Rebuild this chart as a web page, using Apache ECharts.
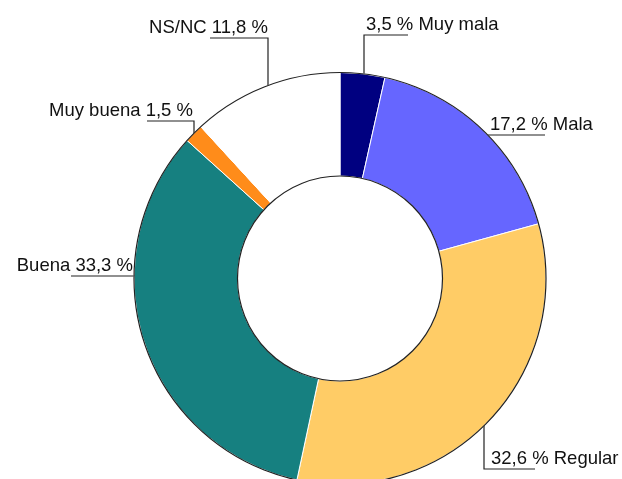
<!DOCTYPE html>
<html>
<head>
<meta charset="utf-8">
<script src="https://cdn.jsdelivr.net/npm/echarts@6/dist/echarts.min.js"></script>
<style>
  html, body { margin: 0; padding: 0; background: #fff; }
  #chart { width: 622px; height: 479px; }
</style>
</head>
<body>
<div id="chart"></div>
<script>
// Opinion categories, clockwise from 12 o'clock
const categories = ['Muy mala', 'Mala', 'Regular', 'Buena', 'Muy buena', 'NS/NC'];
const shares = [3.5, 17.2, 32.6, 33.3, 1.5, 11.8];
const sliceColors = ['#000080', '#6666ff', '#ffcc66', '#168080', '#ff8c1a', '#ffffff'];

// Where each label sits and how its leader line runs (same order as categories)
const labelSpots = [
  { x: 366, y: 34,  align: 'left',  pts: [[364, 74], [364, 35], [408, 35]] },
  { x: 490, y: 134, align: 'left',  pts: [[487, 135], [487, 135], [545, 135]] },
  { x: 491, y: 468, align: 'left',  pts: [[484, 421], [484, 469], [535, 469]] },
  { x: 133, y: 275, align: 'right', pts: [[134, 276], [134, 276], [71, 276]] },
  { x: 193, y: 120, align: 'right', pts: [[194, 136], [194, 121], [147, 121]] },
  { x: 268, y: 37,  align: 'right', pts: [[268, 86], [268, 38], [210, 38]] }
];

const CENTER = [340, 278.5];
const R_IN = 102.5;
const R_OUT = 206;

const fmt = v => v.toFixed(1).replace('.', ',');

const chart = echarts.init(document.getElementById('chart'), null, { renderer: 'canvas' });

chart.setOption({
  backgroundColor: '#ffffff',
  animation: false,
  series: [
    {
      type: 'pie',
      center: CENTER,
      radius: [R_IN, R_OUT],
      startAngle: 90,
      clockwise: true,
      avoidLabelOverlap: false,
      itemStyle: { borderColor: '#ffffff', borderWidth: 1 },
      emphasis: { disabled: true },
      label: {
        show: true,
        position: 'outside',
        fontFamily: 'Liberation Sans, Arial, sans-serif',
        fontSize: 18.5,
        lineHeight: 18,
        color: '#111',
        formatter: p => labelSpots[p.dataIndex].align === 'left'
          ? fmt(p.value) + ' % ' + p.name
          : p.name + ' ' + fmt(p.value) + ' %'
      },
      labelLine: {
        show: true,
        lineStyle: { color: '#222', width: 1.2 }
      },
      labelLayout: params => {
        const s = labelSpots[params.dataIndex];
        return {
          x: s.x,
          y: s.y,
          align: s.align,
          verticalAlign: 'bottom',
          labelLinePoints: s.pts
        };
      },
      data: categories.map((c, i) => ({
        name: c,
        value: shares[i],
        itemStyle: { color: sliceColors[i] }
      }))
    },
    // thin dark outline along the outer edge of the ring
    {
      type: 'pie',
      center: CENTER,
      radius: [0, R_OUT],
      silent: true,
      z: 5,
      label: { show: false },
      labelLine: { show: false },
      itemStyle: { color: 'rgba(0,0,0,0)', borderColor: '#222', borderWidth: 1.2 },
      data: [{ value: 1 }]
    },
    // hole in the middle with its dark outline
    {
      type: 'pie',
      center: CENTER,
      radius: [0, R_IN],
      silent: true,
      z: 5,
      label: { show: false },
      labelLine: { show: false },
      itemStyle: { color: '#ffffff', borderColor: '#222', borderWidth: 1.2 },
      data: [{ value: 1 }]
    }
  ]
});
</script>
</body>
</html>
